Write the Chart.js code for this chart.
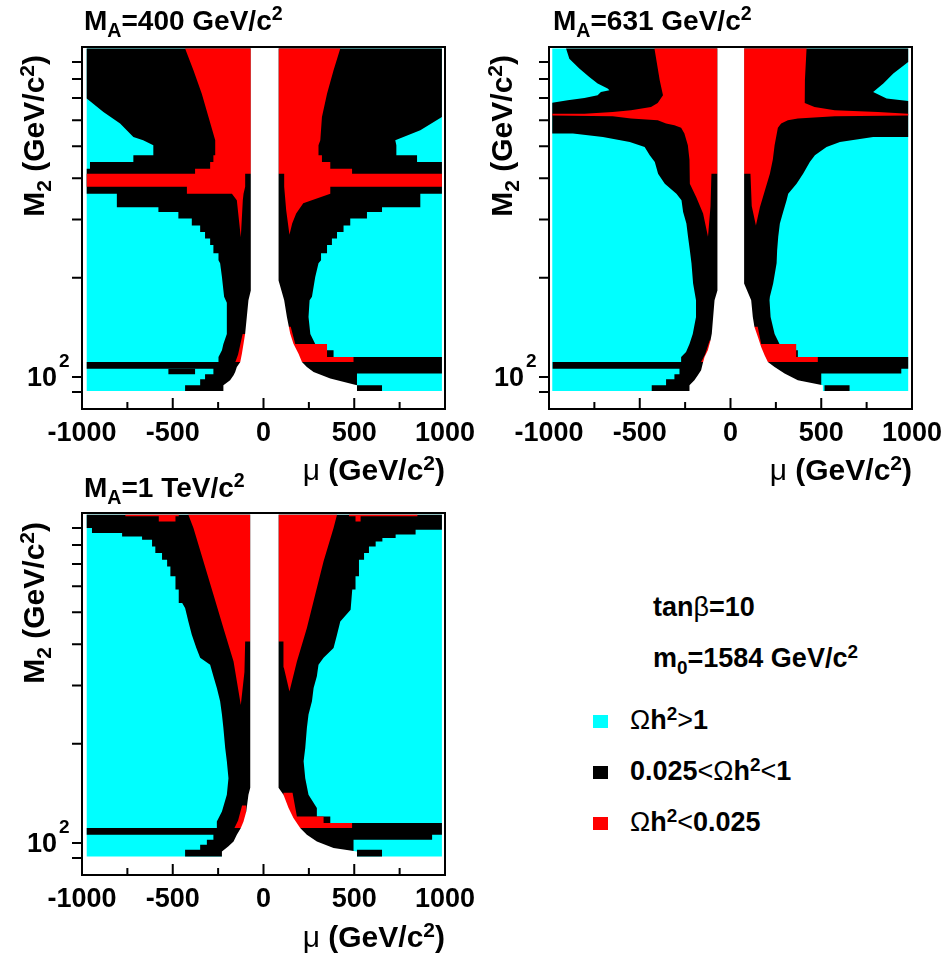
<!DOCTYPE html>
<html>
<head>
<meta charset="utf-8">
<script src="https://cdn.jsdelivr.net/npm/chart.js@4.4.1/dist/chart.umd.min.js"></script>
<style>
  body { margin: 0; background: #fff; width: 946px; height: 954px; position: relative; overflow: hidden;
         font-family: 'Liberation Sans', Arial, sans-serif; font-weight: bold; color: #000; }
  canvas { position: absolute; }
  .t { position: absolute; font-size: 27px; line-height: 27px; white-space: nowrap; }
  .title { font-size: 28px; line-height: 28px; }
  .ax { font-size: 30px; line-height: 30px; }
  .sub { font-size: 0.7em; position: relative; top: 0.35em; }
  .sup { font-size: 0.7em; position: relative; top: -0.5em; }
  .sym { font-weight: normal; }
  .right { width: 200px; text-align: right; }
  .rot { width: 200px; text-align: right; transform-origin: 0 0; transform: rotate(-90deg); }
  .sw { position: absolute; width: 15px; height: 13px; }
</style>
</head>
<body>
<canvas id="c400" width="490" height="460" style="left:0;top:0"></canvas>
<canvas id="c631" width="456" height="460" style="left:490px;top:0"></canvas>
<canvas id="c1000" width="490" height="460" style="left:0;top:466px"></canvas>

<div class="t title" style="left:84px;top:7px">M<span class="sub">A</span>=400 GeV/c<span class="sup">2</span></div>
<div class="t title" style="left:553px;top:7px">M<span class="sub">A</span>=631 GeV/c<span class="sup">2</span></div>
<div class="t title" style="left:84px;top:474px">M<span class="sub">A</span>=1 TeV/c<span class="sup">2</span></div>

<div class="t ax right" style="left:245px;top:455px"><span class="sym">μ</span> (GeV/c<span class="sup">2</span>)</div>
<div class="t ax right" style="left:712px;top:455px"><span class="sym">μ</span> (GeV/c<span class="sup">2</span>)</div>
<div class="t ax right" style="left:245px;top:922px"><span class="sym">μ</span> (GeV/c<span class="sup">2</span>)</div>

<div class="t ax rot" style="left:19px;top:255px">M<span class="sub">2</span> (GeV/c<span class="sup">2</span>)</div>
<div class="t ax rot" style="left:487px;top:255px">M<span class="sub">2</span> (GeV/c<span class="sup">2</span>)</div>
<div class="t ax rot" style="left:19px;top:722px">M<span class="sub">2</span> (GeV/c<span class="sup">2</span>)</div>

<div class="t" style="left:653px;top:594px">tan<span class="sym">β</span>=10</div>
<div class="t" style="left:653px;top:645px">m<span class="sub">0</span>=1584 GeV/c<span class="sup">2</span></div>
<div id="legend"></div>

<script>
// axis ticks
const muTicks = [-1000, -500, 0, 500, 1000];
const muMinorTicks = [-750, -250, 250, 750];
const m2Ticks = [90, 100, 200, 300, 400, 500, 600, 700, 800, 900];
const m2Labelled = 100;   // drawn as 10^2

// legend
const legendColors = ['#00ffff', '#000000', '#ff0000'];
const legendLabels = [
  '<span class="sym">Ω</span>h<span class="sup">2</span><span class="sym">&gt;</span>1',
  '0.025<span class="sym">&lt;Ω</span>h<span class="sup">2</span><span class="sym">&lt;</span>1',
  '<span class="sym">Ω</span>h<span class="sup">2</span><span class="sym">&lt;</span>0.025'
];

// region outlines, [mu, M2] in GeV
// --- M_A = 400
const ma400Cyan = [[-974, 90.7], [983, 90.7], [983, 989], [-974, 989]];
const ma400BlackLeft = [[0, 989], [-974, 989], [-974, 698], [-882, 635], [-790, 586], [-717, 534], [-663, 522], [-607, 504],
  [-607, 470], [-717, 470], [-717, 448], [-956, 448], [-956, 428], [-974, 428],
  [-974, 359], [-808, 359], [-808, 327], [-579, 327], [-579, 316], [-469, 316], [-469, 302], [-395, 302], [-395, 288],
  [-349, 288], [-349, 275], [-322, 275], [-322, 263], [-294, 263], [-294, 251], [-276, 251], [-276, 237], [-248, 237],
  [-248, 226], [-239, 221], [-229, 201], [-217, 175], [-202, 168], [-202, 135], [-221, 126], [-229, 120.5], [-248, 115],
  [-248, 111], [-974, 111], [-974, 106], [-276, 106], [-276, 101.9], [-322, 101.9], [-322, 98.4], [-349, 98.4],
  [-349, 94.4], [-432, 94.4], [-432, 90.7], [0, 90.7]];
const ma400BlackRight = [[0, 989], [983, 989], [983, 614], [864, 559], [726, 522], [732, 504], [732, 470], [846, 470],
  [846, 448], [983, 448], [983, 359], [864, 359], [864, 327], [653, 327], [653, 316], [570, 316], [570, 302], [478, 302],
  [478, 288], [441, 288], [441, 275], [405, 275], [405, 263], [377, 263], [377, 251], [350, 251], [350, 237], [317, 237],
  [317, 226], [303, 221], [285, 201], [267, 175], [254, 171], [248, 152], [258, 135], [285, 126], [285, 120.5],
  [386, 120.5], [386, 115], [983, 115], [983, 102.4], [515, 102.4], [515, 94.4], [0, 94.4]];
const ma400BlackIsland = [[-524, 106], [-377, 106], [-377, 101.9], [-524, 101.9]];
const ma400BlackBlob = [[515, 94.4], [653, 94.4], [653, 90.7], [515, 90.7]];
const ma400RedLeft = [[-70, 989], [-432, 989], [-386, 850], [-340, 722], [-303, 614], [-266, 522], [-266, 470],
  [-276, 470], [-276, 448], [-294, 448], [-294, 428], [-377, 428], [-377, 413], [-974, 413], [-974, 377], [-422, 377],
  [-422, 359], [-174, 359], [-147, 343], [-125, 265], [-114, 343], [-110, 359], [-101, 377], [-101, 413], [-70, 413]];
const ma400RedRight = [[83, 989], [423, 989], [386, 850], [350, 722], [322, 614], [313, 522], [303, 504], [303, 470],
  [322, 470], [322, 448], [368, 448], [368, 428], [488, 428], [488, 413], [983, 413], [983, 377], [368, 377], [368, 359],
  [219, 336], [180, 313], [158, 292], [143, 270], [125, 320], [114, 377], [114, 413], [83, 413]];
const ma400RedLow = [[-95, 135], [-115, 135], [-140, 117], [-155, 111], [-100, 111]];
const ma400RedLowRight = [[110, 142], [150, 142], [175, 126], [350, 126], [350, 115], [496, 115], [496, 111], [110, 111]];
const ma400Gap = [[-70, 1000], [-70, 183], [-83, 171], [-92, 152], [-101, 135.4], [-110, 126.2], [-119, 117.7],
  [-128, 111], [-147, 107.2], [-156, 103.5], [-165, 101.2], [-184, 97.7], [-221, 94.4], [-221, 90], [515, 90],
  [515, 94.4], [368, 98.9], [276, 103.5], [239, 107.2], [212, 111], [193, 117.7], [165, 126.2], [147, 135.4],
  [129, 152], [114, 171], [83, 196], [83, 1000]];

// --- M_A = 631
const ma631Cyan = [[-982, 90.7], [979, 90.7], [979, 989], [-982, 989]];
const ma631BlackLeft = [[0, 989], [-906, 989], [-888, 922], [-833, 860], [-778, 811], [-732, 775], [-677, 748],
  [-667, 740], [-714, 731], [-732, 714], [-805, 701], [-897, 690], [-982, 678], [-982, 547], [-868, 547], [-703, 534],
  [-555, 515], [-473, 498], [-445, 470], [-417, 448], [-399, 413], [-362, 385], [-298, 359], [-270, 343], [-261, 316],
  [-243, 292], [-234, 266], [-224, 242], [-215, 221], [-206, 192], [-190, 171], [-190, 152], [-208, 135], [-226, 126],
  [-245, 119], [-272, 115], [-272, 111], [-980, 111], [-980, 106], [-281, 106], [-281, 101.9], [-309, 101.9],
  [-309, 98.4], [-355, 98.4], [-355, 94.4], [-434, 94.4], [-434, 90.7], [0, 90.7]];
const ma631BlackRight = [[0, 989], [979, 989], [979, 900], [897, 831], [842, 775], [786, 731], [860, 698], [979, 686],
  [979, 534], [786, 534], [603, 515], [529, 498], [465, 470], [437, 448], [400, 413], [364, 385], [318, 359], [309, 343],
  [290, 316], [272, 292], [263, 266], [257, 242], [254, 221], [235, 192], [217, 175], [215, 171], [221, 152], [243, 135],
  [270, 126], [270, 120.5], [371, 120.5], [371, 115], [979, 115], [979, 106], [941, 106], [941, 102.4], [500, 102.4],
  [500, 94.4], [0, 94.4]];
const ma631BlackBlob = [[518, 94.4], [656, 94.4], [656, 90.7], [518, 90.7]];
const ma631RedLeft = [[-72, 989], [-419, 989], [-390, 793], [-372, 714], [-401, 676], [-438, 658], [-548, 643],
  [-649, 635], [-805, 628], [-982, 628], [-982, 620], [-649, 617], [-548, 607], [-401, 600], [-355, 586], [-309, 579],
  [-272, 569], [-254, 547], [-235, 504], [-226, 455], [-224, 413], [-224, 385], [-188, 350], [-151, 313], [-124, 266],
  [-110, 330], [-105, 413], [-72, 413]];
const ma631RedRight = [[75, 989], [419, 989], [410, 793], [410, 714], [408, 676], [463, 658], [574, 643], [812, 635],
  [979, 628], [979, 620], [574, 617], [371, 607], [316, 600], [279, 586], [261, 569], [243, 504], [233, 455], [217, 413],
  [189, 367], [162, 327], [140, 288], [117, 330], [110, 413], [75, 413]];
const ma631RedLow = [[-95, 129], [-115, 129], [-140, 117], [-162, 111], [-100, 111]];
const ma631RedLowRight = [[110, 142], [150, 142], [169, 126], [362, 126], [362, 115], [481, 115], [481, 111], [110, 111]];
const ma631Gap = [[-72, 1000], [-72, 183], [-88, 171], [-103, 135.4], [-110, 129.2], [-125, 120.5], [-143, 115],
  [-153, 109.8], [-162, 104.8], [-180, 101.2], [-199, 97.7], [-226, 94.4], [-226, 90], [509, 90], [509, 94.4],
  [371, 97.7], [298, 102.4], [243, 107.2], [206, 111], [188, 116.4], [169, 123.3], [151, 132.2], [132, 141.8],
  [123, 152], [114, 171], [75, 192], [75, 1000]];

// --- M_A = 1 TeV
const ma1000Cyan = [[-974, 91.1], [983, 91.1], [983, 988], [-974, 988]];
const ma1000BlackLeft = [[0, 988], [-974, 988], [-974, 901], [-945, 901], [-945, 870], [-779, 870], [-779, 849],
  [-669, 849], [-669, 830], [-614, 830], [-614, 792], [-596, 792], [-596, 757], [-559, 757], [-559, 722], [-531, 722],
  [-531, 689], [-513, 689], [-513, 643], [-485, 643], [-485, 586], [-467, 586], [-467, 534], [-448, 534], [-432, 515],
  [-414, 469], [-395, 428], [-370, 390], [-349, 364], [-294, 347], [-276, 320], [-257, 295], [-239, 269], [-229, 245],
  [-221, 223], [-211, 194], [-202, 177], [-193, 157], [-202, 140], [-229, 124.7], [-257, 116.3], [-257, 111],
  [-974, 111], [-974, 106], [-276, 106], [-276, 102.3], [-312, 102.3], [-312, 98.8], [-349, 98.8], [-349, 95.4],
  [-432, 95.4], [-432, 91.1], [0, 91.1]];
const ma1000BlackRight = [[0, 988], [983, 988], [983, 890], [838, 890], [838, 860], [728, 860], [728, 840], [655, 840],
  [655, 820], [618, 820], [618, 792], [581, 792], [581, 757], [554, 757], [554, 722], [526, 722], [526, 643], [507, 643],
  [507, 586], [489, 586], [480, 509], [423, 469], [405, 428], [386, 390], [331, 364], [303, 347], [294, 320], [276, 295],
  [267, 269], [248, 245], [239, 223], [230, 194], [221, 177], [230, 157], [248, 140], [294, 127.6], [294, 120.4],
  [368, 120.4], [368, 115], [983, 115], [983, 106], [929, 106], [929, 102.3], [496, 102.3], [496, 94.3], [0, 94.3]];
const ma1000BlackBlob = [[515, 95.4], [653, 95.4], [653, 91.1], [515, 91.1]];
const ma1000RedLeft = [[-73, 988], [-414, 988], [-386, 901], [-331, 714], [-276, 566], [-221, 448], [-165, 355],
  [-125, 262], [-105, 330], [-101, 408], [-73, 408]];
const ma1000RedTopLeft = [[-761, 988], [-467, 988], [-467, 977], [-485, 977], [-485, 943], [-577, 943], [-577, 977],
  [-761, 977]];
const ma1000RedRight = [[83, 988], [405, 988], [386, 901], [331, 714], [285, 566], [239, 448], [184, 355], [143, 288],
  [112, 340], [110, 408], [83, 408]];
const ma1000RedTopRight = [[471, 988], [848, 988], [848, 977], [535, 977], [535, 943], [507, 943], [507, 977], [471, 977]];
const ma1000RedLow = [[-95, 130], [-118, 130], [-140, 117], [-160, 111], [-100, 111]];
const ma1000RedLowRight = [[110, 142], [160, 142], [184, 120.4], [331, 120.4], [331, 115], [488, 115], [488, 111], [110, 111]];
const ma1000Gap = [[-73, 1000], [-73, 147], [-83, 140], [-95, 124.7], [-110, 116.3], [-125, 111], [-147, 106],
  [-165, 101.1], [-193, 97.7], [-229, 94.3], [-229, 90], [515, 90], [515, 94.3], [386, 96.6], [294, 101.1], [239, 106],
  [202, 111], [165, 119], [138, 127.6], [110, 140], [83, 147], [83, 1000]];

const CYAN = '#00ffff', BLACK = '#000000', RED = '#ff0000', WHITE = '#ffffff';

const panels = [
  { canvas: 'c400', yWidth: 82, padRight: 45, layers: [
    [ma400Cyan, CYAN], [ma400BlackLeft, BLACK], [ma400BlackRight, BLACK], [ma400BlackIsland, BLACK],
    [ma400BlackBlob, BLACK], [ma400RedLeft, RED], [ma400RedRight, RED], [ma400RedLow, RED],
    [ma400RedLowRight, RED], [ma400Gap, WHITE]] },
  { canvas: 'c631', yWidth: 59, padRight: 34, layers: [
    [ma631Cyan, CYAN], [ma631BlackLeft, BLACK], [ma631BlackRight, BLACK], [ma631BlackBlob, BLACK],
    [ma631RedLeft, RED], [ma631RedRight, RED], [ma631RedLow, RED], [ma631RedLowRight, RED], [ma631Gap, WHITE]] },
  { canvas: 'c1000', yWidth: 82, padRight: 45, layers: [
    [ma1000Cyan, CYAN], [ma1000BlackLeft, BLACK], [ma1000BlackRight, BLACK], [ma1000BlackBlob, BLACK],
    [ma1000RedLeft, RED], [ma1000RedRight, RED], [ma1000RedTopLeft, RED], [ma1000RedTopRight, RED],
    [ma1000RedLow, RED], [ma1000RedLowRight, RED], [ma1000Gap, WHITE]] }
];

// legend swatches + labels
const legendTops = [715, 766, 817];
const legend = document.getElementById('legend');
legendLabels.forEach((lab, i) => {
  const sw = document.createElement('div');
  sw.className = 'sw';
  sw.style.left = '593px';
  sw.style.top = legendTops[i] + 'px';
  sw.style.background = legendColors[i];
  legend.appendChild(sw);
  const tx = document.createElement('div');
  tx.className = 't';
  tx.style.left = '630px';
  tx.style.top = (legendTops[i] - 8) + 'px';
  tx.innerHTML = lab;
  legend.appendChild(tx);
});

const FONT = "'Liberation Sans', Arial, sans-serif";

// frame, tick marks (y outside, x inside) and the 10^2 label
const frameTicks = {
  id: 'frameTicks',
  afterDraw(chart) {
    const { ctx, chartArea: a, scales: { x, y } } = chart;
    ctx.save();
    ctx.strokeStyle = '#000';
    ctx.lineWidth = 2;
    ctx.strokeRect(a.left, a.top, a.right - a.left, a.bottom - a.top);
    ctx.beginPath();
    m2Ticks.forEach(v => {
      const py = y.getPixelForValue(v);
      ctx.moveTo(a.left - 10, py);
      ctx.lineTo(a.left, py);
    });
    muTicks.forEach(v => {
      const px = x.getPixelForValue(v);
      ctx.moveTo(px, a.bottom);
      ctx.lineTo(px, a.bottom - 11);
    });
    muMinorTicks.forEach(v => {
      const px = x.getPixelForValue(v);
      ctx.moveTo(px, a.bottom);
      ctx.lineTo(px, a.bottom - 7);
    });
    ctx.stroke();

    const py = y.getPixelForValue(m2Labelled);
    ctx.fillStyle = '#000';
    ctx.textBaseline = 'alphabetic';
    ctx.font = 'bold 27px ' + FONT;
    ctx.textAlign = 'right';
    ctx.fillText('10', a.left - 25, py + 9);
    ctx.font = 'bold 19px ' + FONT;
    ctx.textAlign = 'left';
    ctx.fillText('2', a.left - 23, py - 10);
    ctx.restore();
  }
};

const tickFont = { family: FONT, size: 27, weight: 'bold' };

panels.forEach(p => {
  const n = p.layers.length;
  const datasets = p.layers.map(([pts, color], i) => ({
    data: pts.map(([mu, m2]) => ({ x: mu, y: m2 })),
    backgroundColor: color,
    borderColor: color,
    borderWidth: 0,
    pointRadius: 0,
    tension: 0,
    fill: 'shape',
    order: n - i
  }));

  new Chart(document.getElementById(p.canvas), {
    type: 'line',
    data: { datasets },
    options: {
      responsive: false,
      animation: false,
      events: [],
      layout: { padding: { top: 47, right: p.padRight, left: 0, bottom: 0 } },
      plugins: { legend: { display: false }, tooltip: { enabled: false } },
      scales: {
        x: {
          type: 'linear', min: -1000, max: 1000,
          afterBuildTicks: s => { s.ticks = muTicks.map(v => ({ value: v })); },
          afterFit: s => { s.height = 51; s.paddingLeft = 0; s.paddingRight = 0; },
          grid: { display: false, drawTicks: false },
          border: { display: false },
          ticks: { autoSkip: false, maxRotation: 0, padding: 8, color: '#000', font: tickFont,
                   callback: v => String(v) }
        },
        y: {
          type: 'logarithmic', min: 80, max: 1000,
          afterBuildTicks: s => { s.ticks = m2Ticks.map(v => ({ value: v })); },
          afterFit: s => { s.width = p.yWidth; s.paddingTop = 0; s.paddingBottom = 0; },
          grid: { display: false, drawTicks: false },
          border: { display: false },
          ticks: { display: false }
        }
      }
    },
    plugins: [frameTicks]
  });
});
</script>
</body>
</html>
